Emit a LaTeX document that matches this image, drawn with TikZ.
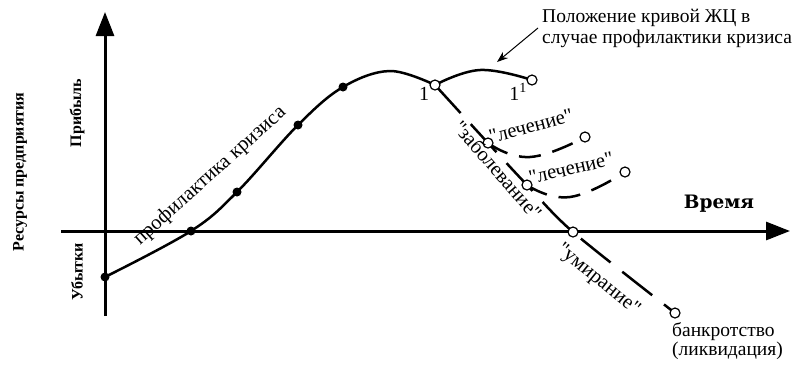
\documentclass[tikz,border=0pt]{standalone}
\usepackage{fontspec}
\setmainfont{Liberation Serif}
\newfontfamily\qfont{Liberation Serif}
\newfontfamily\timefont{DejaVu Serif}
\usetikzlibrary{arrows.meta,backgrounds}
\newcommand{\qq}{{\qfont"}}
\begin{document}
\begin{tikzpicture}[x=1pt,y=-1pt,
  axis/.style={line width=3pt,-{Triangle[length=24pt,width=18pt]}},
  curve/.style={line width=2.5pt},
  dashline/.style={line width=2.5pt,dash pattern=on 38pt off 15pt},
  cureline/.style={line width=2.5pt,dash pattern=on 22pt off 12pt},
  dot/.style={circle,fill=black,inner sep=0pt,minimum size=9pt},
  hol/.style={circle,draw=black,fill=white,line width=1.2pt,inner sep=0pt,minimum size=10pt},
  lbl/.style={font=\fontsize{20.5}{21}\selectfont,inner sep=0pt},
  vlbl/.style={font=\fontsize{16}{18}\selectfont\bfseries,inner sep=0pt,rotate=90}]
\useasboundingbox (0,0) rectangle (798,365);
% points
\node[dot] (d1) at (105,277) {};
\node[dot] (d2) at (191,231) {};
\node[dot] (d3) at (237,192) {};
\node[dot] (d4) at (298,125) {};
\node[dot] (d5) at (343,87) {};
\node[hol] (p1) at (435,85) {};
\node[hol] (p1p) at (532,80) {};
\node[hol] (a1) at (488,143) {};
\node[hol] (a2) at (527,185) {};
\node[hol] (m) at (573,232) {};
\node[hol] (bk) at (675,313) {};
\node[hol] (l1) at (585,137) {};
\node[hol] (l2) at (625,172) {};
\coordinate (yb) at (105,316);
\coordinate (yt) at (105,12);
\coordinate (xl) at (61,231);
\coordinate (xr) at (790,231);
\coordinate (pk) at (390,71);
\coordinate (pk2) at (480,70);
\coordinate (lo1) at (530,157);
\coordinate (lo2) at (570,197);
\coordinate (at) at (538,28);
\coordinate (ah) at (497,62);
\begin{scope}[on background layer]
\draw[axis] (yb) -- (yt);
\draw[axis] (xl) -- (xr);
\draw[curve] plot[smooth,tension=0.6] coordinates {(d1.center) (d2.center) (d3.center) (d4.center) (d5.center) (pk) (p1.center)};
\draw[curve] plot[smooth,tension=0.7] coordinates {(p1.center) (pk2) (p1p.center)};
\draw[dashline] plot[smooth,tension=0.5] coordinates {(p1.center) (a1.center) (a2.center) (m.center) (bk.center)};
\draw[cureline] plot[smooth,tension=0.8] coordinates {(a1.center) (lo1) (l1.center)};
\draw[cureline] plot[smooth,tension=0.8] coordinates {(a2.center) (lo2) (l2.center)};
\draw[line width=1pt,-{Stealth[length=11pt,width=8pt]}] (at) -- (ah);
\end{scope}
% texts
\node[font=\fontsize{19.5}{21}\selectfont,inner sep=0pt,anchor=north west,align=left] (note) at (542,9) {Положение кривой ЖЦ в\\случае профилактики кризиса};
\node[font=\fontsize{20}{20}\selectfont,inner sep=0pt] (one) at (424,94) {1};
\node[font=\fontsize{20}{20}\selectfont,inner sep=0pt] (onep) at (518,92) {1\textsuperscript{1}};
\node[font=\fontsize{18.5}{21}\selectfont\timefont\bfseries,inner sep=0pt] (time) at (719,204) {Время};
\node[font=\fontsize{19.5}{19.5}\selectfont,inner sep=0pt,anchor=north west,align=left] (bank) at (672,322) {банкротство\\(ликвидация)};
\node[lbl,rotate=42] (prof) at (210,176) {профилактика кризиса};
\node[lbl,rotate=-49] (zab) at (498,170) {\qq заболевание\qq};
\node[lbl,rotate=15] (le1) at (531,126) {\qq лечение\qq};
\node[lbl,rotate=13] (le2) at (571,168) {\qq лечение\qq};
\node[lbl,rotate=-39] (um) at (598,280) {\qq умирание\qq};
\node[vlbl] (res) at (20,172) {Ресурсы предприятия};
\node[vlbl] (pr) at (77,113) {Прибыль};
\node[vlbl] (ub) at (77,272) {Убытки};
\end{tikzpicture}
\end{document}
